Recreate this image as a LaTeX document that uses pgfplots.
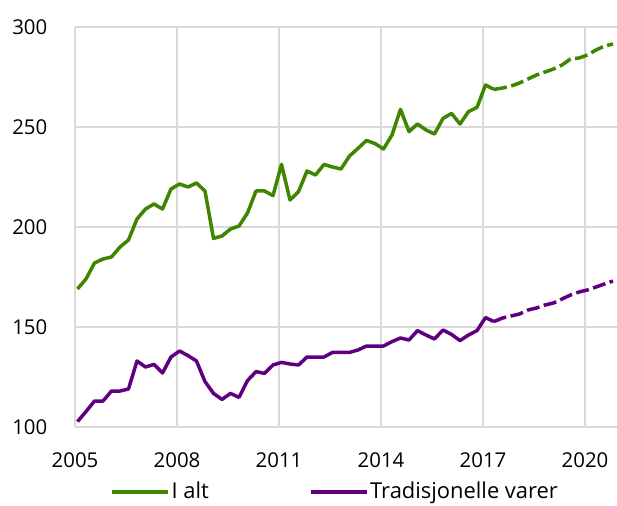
\documentclass[border=0pt]{standalone}
\usepackage{fontspec}
\setmainfont{Open Sans}
\usepackage{pgfplots}
\pgfplotsset{compat=1.18}
\definecolor{grn}{RGB}{62,134,0}
\definecolor{prp}{RGB}{96,0,128}
\definecolor{grd}{RGB}{217,217,217}
\pgfplotstableread{
n v
0 169
1 174
2 182
3 184
4 185
5 190
6 193.5
7 204
8 209
9 211.5
10 209
11 219
12 221.5
13 220
14 222
15 218
16 194.3
17 195.5
18 199
19 200.5
20 207
21 218
22 218
23 215.7
24 231.3
25 213.5
26 217.7
27 228
28 226
29 231.3
30 230
31 229
32 235.5
33 239.3
34 243.3
35 241.7
36 239
37 246
38 258.8
39 247.7
40 251.5
41 248.5
42 246.5
43 254.3
44 256.8
45 251.5
46 257.7
47 259.8
48 271
49 268.8
}\gsolid
\pgfplotstableread{
n v
49 268.8
50 269.5
51 270.5
52 272
53 274
54 276
55 277.5
56 279
57 281
58 284
59 284.5
60 286
61 288.5
62 290.5
63 291.5
}\gdash
\pgfplotstableread{
n v
0 102.7
1 107.7
2 113
3 113
4 118
5 118
6 119
7 133
8 130
9 131.3
10 127
11 135
12 138
13 135.7
14 133
15 122.7
16 116.8
17 113.8
18 116.8
19 114.8
20 123.2
21 127.7
22 126.8
23 131
24 132.3
25 131.5
26 131
27 135
28 135
29 135
30 137.3
31 137.3
32 137.3
33 138.5
34 140.5
35 140.5
36 140.5
37 142.7
38 144.5
39 143.5
40 148.2
41 146
42 144
43 148.5
44 146.3
45 143.2
46 146
47 148.2
48 154.7
49 152.7
}\psolid
\pgfplotstableread{
n v
49 152.7
50 154.5
51 155.5
52 156.5
53 158.5
54 159.5
55 161
56 162
57 164
58 166
59 167.5
60 168.5
61 170
62 171.5
63 173
}\pdash
\begin{document}
\fontsize{20.5}{24}\selectfont
\begin{tikzpicture}
\useasboundingbox (-75bp,-79bp) rectangle (542bp,427bp);
\begin{axis}[
  at={(0,0)}, anchor=south west,
  scale only axis, width=542bp, height=400bp,
  xmin=-0.294, xmax=63.47, ymin=100, ymax=300,
  xtick={-0.294,11.706,23.706,35.706,47.706,59.706},
  xticklabels={2005,2008,2011,2014,2017,2020},
  ytick={100,150,200,250,300},
  axis line style={draw=none},
  major tick length=0pt,
  grid=major,
  grid style={grd, line width=1.6bp},
  /pgf/number format/assume math mode=true,
  every tick label/.append style={font=\fontsize{20.5}{24}\selectfont},
  yticklabel style={anchor=east, inner sep=0pt, xshift=-27.5bp},
  xticklabel style={anchor=north, inner sep=0pt, yshift=-25bp},
  legend columns=2,
  legend style={at={(0.0655,-0.163)}, anchor=west, draw=none, fill=none,
    inner sep=0pt, outer sep=0pt, nodes={inner sep=1.5bp},
    font=\fontsize{22}{26}\selectfont,
    /tikz/every even column/.append style={column sep=0pt}},
  legend image code/.code={\draw[#1, line width=3.6bp, solid] (0bp,0bp) -- (56bp,0bp);},
  clip=true,
]
\addplot[grn, line width=3.5bp, line join=round] table[x=n,y=v]{\gsolid};
\addlegendentry{\makebox[136bp][l]{I alt}}
\addplot[prp, line width=3.5bp, line join=round] table[x=n,y=v]{\psolid};
\addlegendentry{Tradisjonelle varer}
\addplot[grn, line width=3.5bp, line join=round, dash pattern=on 13bp off 4.5bp, forget plot] table[x=n,y=v]{\gdash};
\addplot[prp, line width=3.5bp, line join=round, dash pattern=on 13bp off 4.5bp, forget plot] table[x=n,y=v]{\pdash};
\end{axis}
\end{tikzpicture}
\end{document}
